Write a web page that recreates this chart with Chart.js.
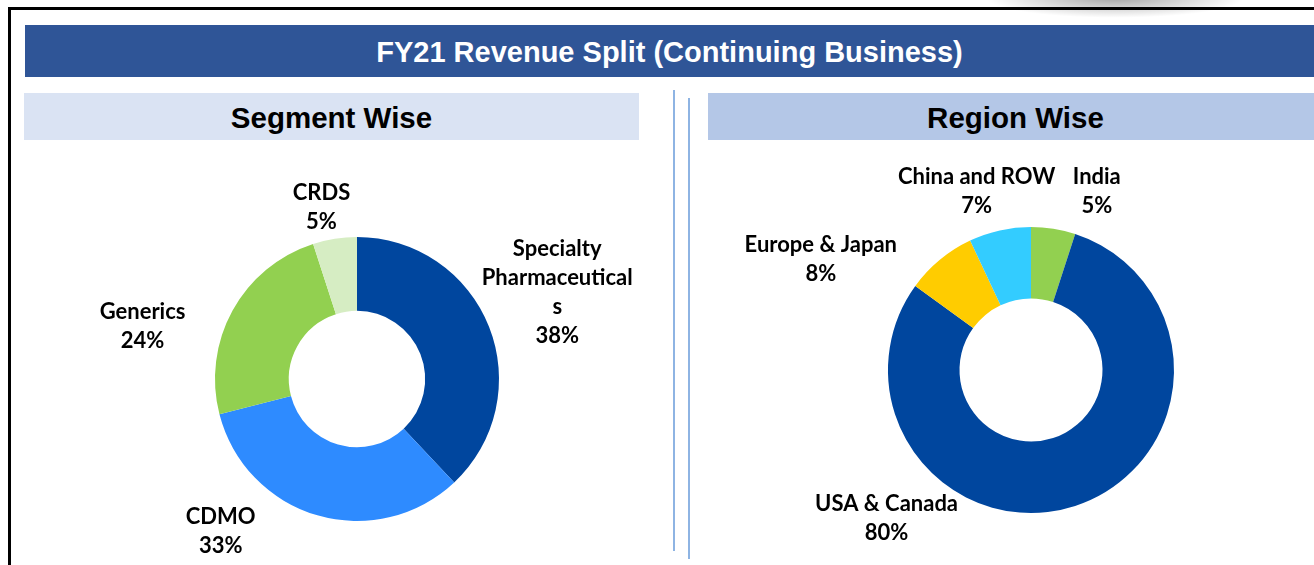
<!DOCTYPE html>
<html>
<head>
<meta charset="utf-8">
<script src="https://cdn.jsdelivr.net/npm/chart.js@4.4.0/dist/chart.umd.min.js"></script>
<style>
	html, body { margin: 0; padding: 0; background: #fff; }
	body { width: 1314px; height: 565px; position: relative; overflow: hidden; font-family: "Liberation Sans", Arial, sans-serif; }
	.frame-top { position: absolute; left: 8px; top: 7px; width: 1306px; height: 3px; background: #000; }
	.frame-left { position: absolute; left: 8px; top: 7px; width: 3px; height: 558px; background: #000; }
	.shadow { position: absolute; left: 985px; top: -22px; width: 260px; height: 40px;
		background: radial-gradient(ellipse at center, rgba(0,0,0,0.35) 0%, rgba(0,0,0,0.12) 45%, rgba(0,0,0,0) 70%); }
	.title { position: absolute; left: 25px; top: 25px; width: 1289px; height: 52px; background: #2F5597;
		color: #fff; font-weight: bold; font-size: 29px; line-height: 55px; text-align: center; }
	.sub { position: absolute; top: 93px; height: 47px; font-weight: bold; font-size: 29.5px; line-height: 50px; text-align: center; color: #000; box-sizing: border-box; }
	.sub.left { left: 24px; width: 615px; background: #DAE3F3; }
	.sub.right { left: 708px; width: 606px; background: #B4C7E7; padding-left: 9px; }
	.vline { position: absolute; width: 2px; background: #8EB4E3; }
	.box { position: absolute; }
</style>
</head>
<body>
<div class="shadow"></div>
<div class="frame-top"></div>
<div class="frame-left"></div>
<div class="title">FY21 Revenue Split (Continuing Business)</div>
<div class="sub left">Segment Wise</div>
<div class="sub right">Region Wise</div>
<div class="vline" style="left:673px; top:90px; height:461px;"></div>
<div class="vline" style="left:688px; top:98px; height:461px;"></div>

<div class="box" style="left:30px; top:145px; width:640px; height:420px;"><canvas id="segChart"></canvas></div>
<div class="box" style="left:700px; top:145px; width:614px; height:420px;"><canvas id="regChart"></canvas></div>

<script>
	// 事業セグメント別
	var segLabels = [['Specialty', 'Pharmaceutical', 's'], 'CDMO', 'Generics', 'CRDS'];
	var segValues = [38, 33, 24, 5];
	var segColors = ['#00469E', '#2E8BFF', '#92D050', '#D6EDC3'];
	// ラベル位置 (外半径に対する中心からのずれ)
	var segLabelPos = [[1.41, -0.61], [-0.96, 1.07], [-1.51, -0.37], [-0.25, -1.21]];

	// 地域別
	var regLabels = ['India', 'USA & Canada', 'Europe & Japan', 'China and ROW'];
	var regValues = [5, 80, 8, 7];
	var regColors = ['#92D050', '#00469E', '#FFCC00', '#33CCFF'];
	var regLabelPos = [[0.46, -1.25], [-1.01, 1.04], [-1.47, -0.77], [-0.38, -1.25]];

	// データラベル描画プラグイン
	var outsideLabels = {
		id: 'outsideLabels',
		afterDatasetsDraw: function(chart, args, opts) {
			var ctx = chart.ctx;
			var meta = chart.getDatasetMeta(0);
			var values = chart.data.datasets[0].data;
			ctx.save();
			ctx.fillStyle = '#000';
			ctx.font = 'bold 22px Lato, "Open Sans", sans-serif';
			ctx.textAlign = 'center';
			ctx.textBaseline = 'middle';
			meta.data.forEach(function(arc, i) {
				var p = arc.getProps(['x', 'y', 'outerRadius'], true);
				var pos = opts.pos[i];
				var lbl = chart.data.labels[i];
				var lines = [].concat(lbl, values[i] + '%');
				var cx = p.x + pos[0] * p.outerRadius,
					cy = p.y + pos[1] * p.outerRadius;
				var lh = 29;
				var top = cy - (lines.length - 1) * lh / 2;
				lines.forEach(function(t, j) {
					ctx.fillText(t, cx, top + j * lh);
				});
			});
			ctx.restore();
		}
	};

	function makeDonut(id, labels, values, colors, cutout, padding, pos) {
		return new Chart(document.getElementById(id), {
			type: 'doughnut',
			data: {
				labels: labels,
				datasets: [{
					data: values,
					backgroundColor: colors,
					borderWidth: 0
				}]
			},
			options: {
				responsive: true,
				maintainAspectRatio: false,
				animation: false,
				cutout: cutout,
				layout: { padding: padding },
				plugins: {
					legend: { display: false },
					tooltip: { enabled: false },
					outsideLabels: { pos: pos }
				}
			},
			plugins: [outsideLabels]
		});
	}

	makeDonut('segChart', segLabels, segValues, segColors, '48%',
		{ left: 185, right: 171, top: 92, bottom: 44 }, segLabelPos);
	makeDonut('regChart', regLabels, regValues, regColors, '50%',
		{ left: 188, right: 140, top: 82, bottom: 52 }, regLabelPos);
</script>
</body>
</html>
